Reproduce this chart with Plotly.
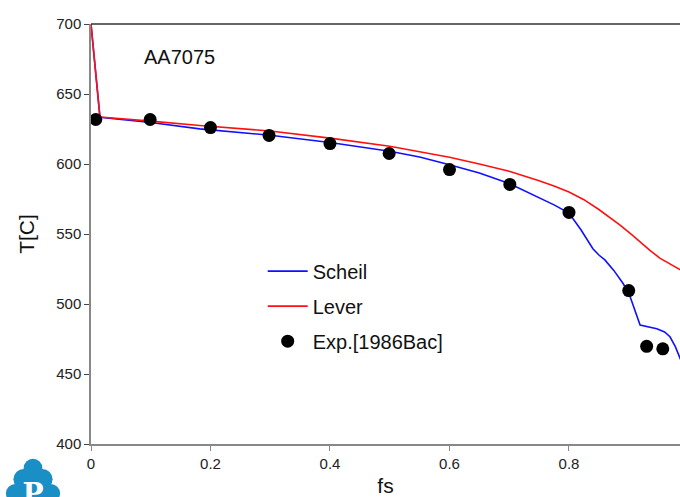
import plotly.graph_objects as go

# Scheil curve
scheil_fs = [0.0, 0.015, 0.1, 0.182, 0.3, 0.4, 0.5, 0.55, 0.6, 0.65, 0.7, 0.725, 0.75, 0.775, 0.8, 0.82, 0.84, 0.85, 0.86, 0.875, 0.89, 0.9, 0.919, 0.93, 0.947, 0.96, 0.969, 0.978, 0.985, 0.99]
scheil_T = [700, 633.4, 629.6, 625.1, 620.5, 615.3, 609.1, 605.0, 599.5, 593.5, 586.0, 581.0, 575.5, 570.8, 565.0, 553.0, 539.5, 535.0, 531.5, 524.0, 515.0, 508.0, 485.0, 484.0, 482.3, 480.0, 476.6, 469.5, 462.0, 457.0]

# Lever curve
lever_fs = [0.0, 0.015, 0.1, 0.182, 0.3, 0.4, 0.5, 0.6, 0.65, 0.7, 0.75, 0.775, 0.8, 0.825, 0.85, 0.885, 0.905, 0.919, 0.935, 0.952, 0.97, 0.985, 0.99]
lever_T = [700, 633.6, 630.6, 627.5, 623.6, 618.5, 612.7, 604.8, 600.0, 594.8, 588.0, 584.3, 580.0, 574.5, 567.5, 556.5, 549.5, 544.1, 538.5, 532.8, 528.5, 525.0, 523.5]

# Experimental data [1986Bac]
exp_fs = [0.008, 0.099, 0.2, 0.298, 0.4, 0.499, 0.6, 0.701, 0.8, 0.9, 0.93, 0.957]
exp_T = [631.8, 631.8, 626.0, 620.4, 614.6, 607.5, 596.0, 585.4, 565.4, 509.6, 469.8, 468.0]

x_ticks = [0, 0.2, 0.4, 0.6, 0.8]
x_tick_labels = ["0", "0.2", "0.4", "0.6", "0.8"]
y_ticks = [400, 450, 500, 550, 600, 650, 700]

FONT = "Liberation Sans, Arial, sans-serif"

fig = go.Figure()
fig.add_trace(go.Scatter(x=scheil_fs, y=scheil_T, mode="lines", name="Scheil",
                         line=dict(color="#1010ff", width=1.6), legendgroup="a"))
fig.add_trace(go.Scatter(x=lever_fs, y=lever_T, mode="lines", name="Lever",
                         line=dict(color="#ff1010", width=1.6), legendgroup="b"))
fig.add_trace(go.Scatter(x=exp_fs, y=exp_T, mode="markers", name="Exp.[1986Bac]",
                         marker=dict(color="black", size=13), legendgroup="c"))

logo_svg = (
    "data:image/svg+xml;utf8,"
    "<svg xmlns='http://www.w3.org/2000/svg' width='60' height='60' viewBox='0 0 60 60'>"
    "<g fill='%231a8fc6'>"
    "<circle cx='30' cy='13' r='10'/><circle cx='20' cy='25' r='11'/><circle cx='40' cy='25' r='11'/>"
    "<circle cx='11' cy='40' r='10'/><circle cx='49' cy='40' r='10'/><circle cx='30' cy='38' r='17'/>"
    "</g>"
    "<text x='30' y='50' font-family='DejaVu Serif, serif' font-weight='bold' font-size='30' "
    "fill='white' text-anchor='middle'>P</text></svg>"
)

PW, PH = 589, 420

fig.update_layout(
    width=680, height=497,
    margin=dict(l=91, r=0, t=24, b=53, autoexpand=False),
    paper_bgcolor="white", plot_bgcolor="white",
    font=dict(family=FONT, color="#222", size=15),
    showlegend=True,
    legend=dict(x=0.2915, y=0.458, xanchor="left", yanchor="top",
                font=dict(size=20, color="#111"), bgcolor="rgba(0,0,0,0)",
                tracegroupgap=6, itemwidth=40),
    xaxis=dict(range=[0, 0.9858], tickvals=x_ticks, ticktext=x_tick_labels,
               showgrid=False, zeroline=False, showline=True, linecolor="#888", linewidth=1.5,
               ticks="outside", ticklen=5, tickcolor="#888",
               tickfont=dict(size=15, color="#222"),
               title=dict(text="fs", font=dict(size=21, color="#111"), standoff=12)),
    yaxis=dict(range=[400, 700], tickvals=y_ticks,
               showgrid=False, zeroline=False, showline=True, linecolor="#888", linewidth=1.5,
               ticks="outside", ticklen=5, tickcolor="#444",
               tickfont=dict(size=15, color="#222"),
               title=dict(text="T[C]", font=dict(size=21, color="#111"), standoff=16)),
    shapes=[dict(type="line", xref="paper", yref="paper", x0=0, x1=1, y0=1, y1=1,
                 line=dict(color="#333", width=1.5))],
    annotations=[dict(text="AA7075", xref="x", yref="y", x=0.148, y=676.5, showarrow=False,
                      font=dict(size=20, color="#111"))],
    images=[dict(source=logo_svg, xref="paper", yref="paper",
                 x=-86/PW, y=-12/PH, sizex=56/PW, sizey=56/PH,
                 xanchor="left", yanchor="top", sizing="stretch", layer="above")],
)

fig.write_html("out.html", config={"displayModeBar": False},
               post_script="document.body.style.margin='0';document.body.style.padding='0';")
